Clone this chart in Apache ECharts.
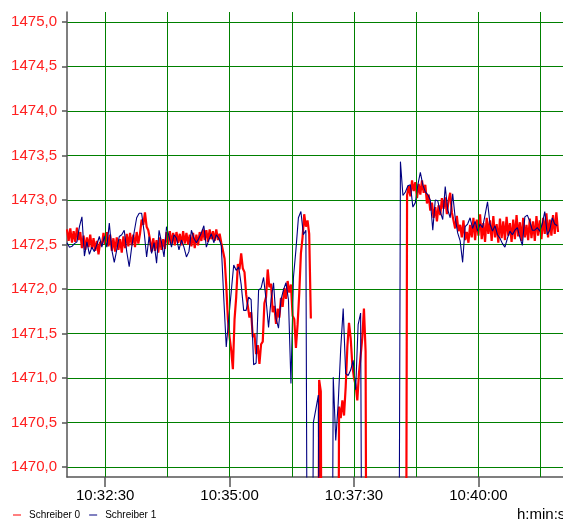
<!DOCTYPE html>
<html><head><meta charset="utf-8">
<script src="https://cdn.jsdelivr.net/npm/echarts@6/dist/echarts.min.js"></script>
<style>html,body{margin:0;padding:0;background:#fff}#c{width:563px;height:521px}</style>
</head><body><div id="c"></div>
<script>
// time base (seconds since midnight) 10:31:44
const startTime = 37904;
const redStep = 2;   // s between samples of Schreiber 0
const blueStep = 3;  // s between samples of Schreiber 1

// Schreiber 0 (null = no data)
const redValues = [
 1472.67,1472.54,1472.68,1472.52,1472.65,1472.53,1472.69,1472.55,1472.64,
 1472.46,1472.60,1472.44,1472.58,1472.47,1472.61,1472.45,1472.57,1472.43,
 1472.54,1472.39,1472.53,
 1472.49,1472.63,1472.50,1472.64,1472.48,1472.61,
 1472.43,1472.57,1472.42,1472.58,1472.44,1472.56,1472.41,1472.59,1472.46,
 1472.62,1472.48,1472.63,1472.49,1472.61,1472.47,1472.64,1472.51,
 1472.62,1472.78,1472.72,1472.86,1472.70,1472.66,
 1472.56,1472.42,1472.57,1472.43,1472.55,1472.41,1472.58,1472.44,1472.56,1472.45,
 1472.64,1472.50,1472.65,1472.51,1472.63,1472.49,1472.64,1472.52,1472.62,1472.49,1472.65,1472.51,1472.63,1472.50,1472.61,
 1472.48,1472.63,1472.46,1472.61,1472.49,1472.64,
 1472.54,1472.67,1472.55,1472.66,1472.53,1472.67,1472.56,1472.65,1472.54,1472.67,1472.55,
 1472.62,1472.52,1472.50,1472.34,
 1472.04,1471.66,1471.46,1471.31,1471.10,1471.66,1471.91,1472.28,1472.22,1472.40,
 1472.23,1472.19,1471.94,1471.95,1471.68,1471.74,1471.46,1471.50,1471.27,1471.37,
 1471.16,1471.38,1471.41,1471.84,1471.91,1472.22,1472.02,1472.06,1471.74,1471.81,
 1471.61,1471.78,1471.68,1471.90,1471.80,1472.01,1471.89,1472.09,1471.96,1472.05,
 1471.70,1471.66,1471.34,1471.60,1471.95,1472.40,1472.58,1472.84,1472.70,1472.77,
 1472.62,1471.67,
 null,null,null,
 1465,1470.98,1470.85,1465,
 null,null,null,null,null,null,null,null,
 1465,
 1470.68,1470.55,1470.75,1470.58,1470.90,1471.35,1471.62,1471.45,1471.15,1471.00,
 1470.92,1470.75,1471.05,1471.25,1471.45,1471.78,1471.30,
 1465,
 null,null,null,null,null,null,null,null,null,null,null,
 null,null,null,null,null,null,null,null,null,null,null,
 1465,
 1473.05,1473.16,1473.04,1473.22,1473.10,1473.20,1473.02,1473.18,1473.06,1473.22,
 1473.08,1473.17,1472.96,1473.06,1472.88,1472.97,1472.80,1472.92,1472.76,1472.94,
 1472.83,1473.02,1472.90,1473.03,1472.84,1472.99,1473.08,1472.86,1472.88,1472.68,
 1472.82,1472.65,1472.72,1472.58,1472.77,1472.55,1472.64,1472.52,1472.72,
 1472.58,1472.80,1472.55,1472.78,1472.60,1472.84,1472.56,1472.74,1472.53,1472.80,
 1472.62,1472.77,1472.54,1472.82,1472.58,1472.73,1472.52,1472.79,1472.57,1472.76,
 1472.55,1472.81,1472.60,1472.74,1472.53,1472.78,1472.56,1472.83,1472.59,1472.75,
 1472.54,1472.80,1472.58,1472.72,1472.55,1472.79,1472.57,1472.76,1472.54,1472.82,
 1472.60,1472.77,1472.56,1472.80,1472.62,1472.85,1472.58,1472.78,1472.60,1472.83,
 1472.62,1472.86,1472.64
];

// Schreiber 1
const blueValues = [
 1472.52,1472.47,1472.48,1472.51,1472.53,1472.70,1472.81,1472.37,1472.53,1472.39,
 1472.47,1472.42,1472.50,1472.59,1472.47,1472.59,1472.47,1472.74,1472.44,1472.30,
 1472.44,1472.59,1472.61,1472.66,1472.42,1472.25,1472.47,1472.64,1472.80,1472.85,
 1472.85,1472.64,1472.36,1472.59,1472.40,1472.52,1472.29,1472.66,1472.52,1472.36,
 1472.70,1472.59,1472.47,1472.61,1472.57,1472.44,1472.55,1472.47,1472.36,1472.42,
 1472.66,1472.57,1472.52,1472.57,1472.63,1472.71,1472.47,1472.55,1472.62,1472.52,
 1472.61,1472.57,1472.49,1471.90,1471.35,1471.67,1471.97,1472.27,1472.21,1472.25,
 1472.05,1471.76,1471.76,1471.91,1471.88,1471.15,1471.17,1471.99,1472.01,1472.13,
 1471.88,1471.57,1471.88,1472.07,1471.67,1471.56,1471.88,1471.99,1472.07,1471.88,
 1470.94,1472.13,1472.44,1472.80,1472.87,1472.61,1472.66,1465,1465,1470.50,
 1470.65,1470.81,1465,1465,1465,1465,1465,1471.01,1470.30,1470.72,
 1471.33,1471.78,1471.05,1471.03,1471.09,1471.20,1470.87,1471.60,1471.73,1465,
 1465,1465,1465,1465,1465,1465,1465,1465,1465,1465,
 1465,1465,1465,1465,1473.43,1473.05,1473.09,1473.16,1473.17,1472.92,
 1472.97,1473.17,1473.31,1473.17,1473.09,1473.06,1473.00,1472.66,1473.00,1472.99,
 1472.87,1472.78,1473.15,1472.89,1472.80,1473.07,1472.80,1472.63,1472.54,1472.30,
 1472.70,1472.73,1472.80,1472.68,1472.76,1472.65,1472.73,1472.69,1472.83,1472.98,
 1472.73,1472.65,1472.71,1472.61,1472.57,1472.51,1472.47,1472.57,1472.65,1472.61,
 1472.66,1472.69,1472.58,1472.49,1472.81,1472.83,1472.76,1472.66,1472.66,1472.69,
 1472.65,1472.73,1472.87,1472.61,1472.66,1472.80,1472.73,1472.71
];

const yTicks = [1470,1470.5,1471,1471.5,1472,1472.5,1473,1473.5,1474,1474.5,1475];
const xLabelTimes = [37950,38100,38250,38400];          // 10:32:30 ... 10:40:00
const xGridTimes = [37950,38025,38100,38175,38250,38325,38400,38475];
const xMin = 37904, xMax = 38502;
const yMin = 1469.89, yMax = 1475.11;

function pad(n){return (n<10?'0':'')+n;}
function fmtTime(s){s=Math.round(s);const h=Math.floor(s/3600),m=Math.floor((s%3600)/60),x=s%60;return h+':'+pad(m)+':'+pad(x);}

const redData = redValues.map((v,i)=>[startTime+i*redStep, v]);
const blueData = blueValues.map((v,i)=>[startTime+i*blueStep, v]);

const FONT = '"Liberation Sans", Arial, sans-serif';
const chart = echarts.init(document.getElementById('c'), null, {renderer:'canvas'});
chart.setOption({
  animation:false,
  backgroundColor:'#fff',
  grid:{left:67, top:12, right:0, bottom:44, containLabel:false, outerBoundsMode:'none'},
  legend:{
    left:13, top:510, padding:0, itemGap:9, itemWidth:8, itemHeight:1,
    textStyle:{fontFamily:FONT, fontSize:10, color:'#000', padding:[0,0,0,3]},
    data:[{name:'Schreiber 0', icon:'rect'},{name:'Schreiber 1', icon:'rect'}]
  },
  graphic:[{type:'text', left:517, top:507, style:{text:'h:min:s', font:'15px '+FONT, fill:'#000'}}],
  xAxis:{
    type:'value', min:xMin, max:xMax,
    axisLine:{show:true, lineStyle:{color:'#555', width:1.5}},
    axisTick:{show:true, length:10, customValues:xLabelTimes, lineStyle:{color:'#555', width:1.5}},
    axisLabel:{customValues:xLabelTimes, formatter:fmtTime, margin:11, color:'#000', fontSize:15, fontFamily:FONT, hideOverlap:false},
    splitLine:{show:false}
  },
  yAxis:{
    type:'value', min:yMin, max:yMax,
    axisLine:{show:true, lineStyle:{color:'#555', width:1.5}},
    axisTick:{show:true, length:5, customValues:yTicks, lineStyle:{color:'#555', width:1.5}},
    axisLabel:{customValues:yTicks, formatter:v=>v.toFixed(1).replace('.',','), margin:10, color:'#ff2020', fontSize:15, fontFamily:FONT, hideOverlap:false},
    splitLine:{show:true, lineStyle:{color:'#008000', width:1}}
  },
  series:[
    {name:'grid', type:'line', data:[], z:1, silent:true,
     markLine:{silent:true, symbol:['none','none'], animation:false, label:{show:false},
       lineStyle:{color:'#008000', width:1, type:'solid'}, emphasis:{disabled:true},
       data:xGridTimes.map(t=>({xAxis:t}))}},
    {name:'Schreiber 0', type:'line', data:redData, showSymbol:false, symbol:'none', z:3,
     lineStyle:{color:'#ff0000', width:2.2}, itemStyle:{color:'#ff0000'}, clip:true, connectNulls:false},
    {name:'Schreiber 1', type:'line', data:blueData, showSymbol:false, symbol:'none', z:4,
     lineStyle:{color:'#000080', width:1.1}, itemStyle:{color:'#000080'}, clip:true}
  ]
});
</script></body></html>
